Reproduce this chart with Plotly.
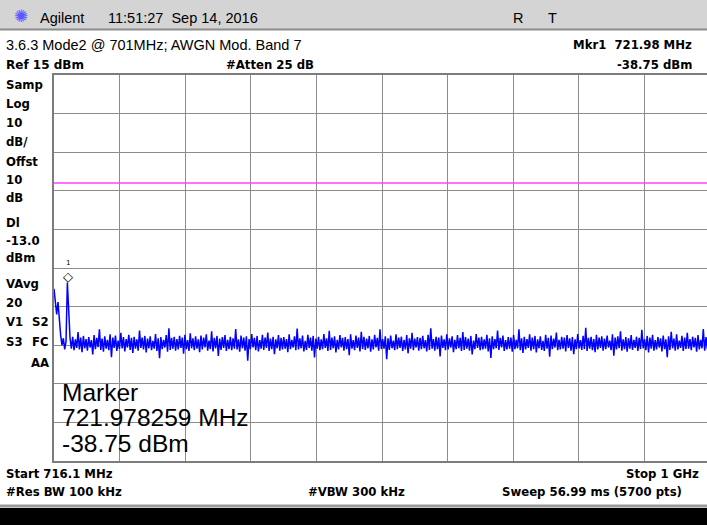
import numpy as np
import plotly.graph_objects as go

# ---------------- data ----------------
START_MHZ = 716.1
STOP_MHZ = 1000.0
REF_DBM = 15.0
DB_PER_DIV = 10.0
DL_DBM = -13.0
MKR_FREQ = 721.978259
MKR_DBM = -38.75

# first points of the sweep (band edge, marker peak)
edge_dbm = [-40.4, -44.5, -47.0, -43.8, -49.5, -52.5, -55.0, -53.2, -56.1, -54.0, -38.75, -46.0]

# rest of sweep (noise floor), read as alternating upper / lower excursions
noise_dbm = [
    -53.2, -55.9, -52.8, -56.3, -53.5, -55.7, -51.6, -56.1, -53.0, -56.8, -52.6, -55.8, -53.4, -56.4, -52.9, -55.6, -53.7, -57.4, -52.4, -56.0,
    -53.1, -55.5, -50.9, -56.2, -53.3, -56.7, -52.7, -55.9, -53.6, -56.3, -52.2, -58.1, -53.0, -55.7, -52.5, -56.5, -53.8, -56.0, -51.8, -55.8,
    -52.9, -56.6, -53.4, -55.6, -52.3, -56.2, -53.1, -57.0, -52.8, -55.9, -53.5, -56.4, -51.2, -55.7, -53.0, -56.1, -52.6, -56.9, -53.3, -55.8,
    -52.7, -56.3, -53.9, -55.9, -52.1, -56.5, -53.2, -58.4, -52.9, -56.0, -53.6, -55.6, -52.4, -56.7, -50.6, -56.2, -53.1, -55.9, -52.8, -56.4,
    -53.4, -56.1, -52.6, -55.7, -53.0, -57.2, -52.3, -56.0, -53.7, -56.5, -51.9, -55.8, -53.2, -56.3, -52.7, -55.9, -53.5, -56.8, -52.5, -56.1,
    -53.0, -55.6, -52.2, -56.4, -53.8, -56.0, -51.4, -56.6, -53.1, -55.8, -52.6, -57.8, -53.3, -56.2, -52.9, -55.7, -52.4, -56.5, -53.6, -56.0,
    -52.8, -56.3, -53.2, -55.9, -50.8, -56.1, -53.5, -56.7, -52.5, -55.8, -53.0, -56.4, -52.7, -59.0, -53.4, -56.0, -52.1, -55.6, -53.1, -56.3,
    -52.6, -56.6, -53.7, -55.9, -52.3, -56.2, -53.0, -55.7, -51.7, -56.5, -53.3, -56.0, -52.8, -57.3, -53.5, -55.8, -52.4, -56.4, -53.1, -56.1,
    -52.9, -55.9, -53.4, -56.8, -52.2, -56.0, -53.6, -55.6, -52.7, -56.3, -50.7, -56.1, -53.2, -55.8, -52.5, -56.6, -53.9, -56.2, -52.3, -55.7,
    -53.0, -56.4, -52.6, -58.2, -53.3, -55.9, -52.8, -56.3, -53.5, -56.0, -52.1, -55.7, -53.2, -56.5, -51.3, -56.2, -53.0, -55.8, -52.7, -56.9,
    -53.6, -56.1, -52.4, -55.6, -53.1, -56.4, -52.9, -56.0, -53.4, -57.6, -52.2, -55.9, -53.7, -56.3, -52.5, -55.7, -53.0, -56.6, -51.5, -56.0,
    -52.8, -56.2, -53.3, -55.8, -52.6, -56.7, -53.5, -56.1, -52.3, -55.6, -53.1, -56.4, -50.9, -56.0, -53.4, -55.9, -52.7, -58.6, -53.2, -56.2,
    -52.5, -55.8, -53.8, -56.3, -52.2, -56.0, -53.0, -55.7, -52.8, -56.5, -53.6, -56.1, -52.4, -57.1, -53.2, -55.9, -51.8, -56.3, -53.3, -55.6,
    -52.9, -56.4, -53.1, -56.0, -52.6, -55.8, -53.7, -56.6, -52.3, -56.2, -50.6, -55.9, -53.4, -56.4, -52.8, -56.0, -53.0, -57.9, -52.5, -55.7,
    -53.5, -56.3, -52.2, -56.1, -53.2, -55.6, -52.7, -56.8, -53.6, -56.0, -52.4, -55.8, -53.1, -56.5, -51.6, -56.2, -52.9, -55.9, -53.3, -56.4,
    -52.6, -57.4, -53.8, -56.0, -52.1, -55.7, -53.0, -56.3, -52.8, -56.1, -53.5, -55.9, -52.3, -56.6, -53.2, -58.3, -52.7, -56.0, -53.4, -55.8,
    -51.2, -56.2, -53.1, -55.6, -52.5, -56.5, -53.7, -56.1, -52.9, -55.9, -53.0, -56.7, -52.4, -56.0, -53.6, -55.8, -50.9, -56.3, -53.2, -57.0,
    -52.8, -56.1, -53.4, -55.7, -52.2, -56.4, -53.0, -56.0, -52.6, -56.9, -53.5, -55.8, -52.7, -56.2, -53.9, -56.5, -52.3, -55.9, -53.1, -58.0,
    -52.5, -56.0, -53.3, -55.6, -51.7, -56.3, -53.6, -56.1, -52.8, -55.9, -53.0, -56.6, -52.4, -55.7, -53.2, -56.4, -52.9, -57.3, -53.5, -56.0,
    -52.1, -55.8, -53.7, -56.2, -52.6, -56.0, -50.5, -56.5, -53.1, -55.9, -52.8, -56.3, -53.4, -56.8, -52.3, -56.1, -53.0, -55.7, -52.7, -56.4,
    -53.3, -56.0, -52.5, -55.6, -53.8, -56.3, -52.2, -57.7, -53.0, -56.1, -52.7, -55.8, -51.4, -56.4, -53.5, -56.0, -52.9, -56.7, -53.2, -55.9,
    -52.4, -56.2, -53.6, -55.7, -52.8, -56.5, -53.1, -56.0, -51.0, -55.8, -53.4, -56.3, -52.6, -56.9, -53.0, -55.9, -52.3, -56.4, -53.7, -56.1,
    -52.9, -55.6, -53.2, -56.6, -52.5, -56.0, -53.5, -58.1, -52.7, -56.2, -51.5, -55.8, -53.3, -56.4, -52.2, -56.1, -53.8, -55.7, -52.6, -56.5,
    -53.0, -56.0, -51.8, -55.9, -53.4, -56.3, -52.8, -55.6, -53.1, -56.7, -52.4, -56.1, -53.6, -55.8, -50.8, -56.4, -52.9, -56.0, -53.2, -55.7,
]

trace_dbm = edge_dbm + noise_dbm
freq_mhz = np.linspace(START_MHZ, STOP_MHZ, len(trace_dbm))

# ---------------- layout geometry (pixels) ----------------
W, H = 707, 525
L, R, T, B = 54, 0, 75, 64
PW, PH = W - L - R, H - T - B
GRID_PX = 65.6  # one horizontal division in px
SPAN = STOP_MHZ - START_MHZ
x_max = START_MHZ + SPAN / 10.0 * (PW / GRID_PX)


def px(xp):
    return (xp - L) / PW


def py(yp):
    return (H - B - yp) / PH


fig = go.Figure()
fig.add_trace(go.Scatter(x=freq_mhz, y=trace_dbm, mode="lines",
                         line=dict(color="#0000ff", width=1.5), hoverinfo="skip"))

BOLD = "DejaVu Sans"
REG = "Liberation Sans, Arial"

ann = []


def txt(x, y, s, size=12, font=BOLD, bold=True, anchor="left", color="black"):
    t = f"<b>{s}</b>" if bold else s
    ann.append(dict(xref="paper", yref="paper", x=px(x), y=py(y), text=t, showarrow=False,
                    xanchor=anchor, yanchor="middle",
                    font=dict(family=font, size=size, color=color)))


# top bar texts
ann.append(dict(xref="paper", yref="paper", x=px(21), y=py(16), text="✺", showarrow=False,
                xanchor="center", yanchor="middle", font=dict(family="DejaVu Sans", size=17, color="#5a5aff")))
txt(38, 18, "Agilent", 14.5, REG, False)
txt(106, 18, "11:51:27&nbsp;&nbsp;Sep 14, 2016", 14.5, REG, False)
txt(511, 18, "R", 14.5, REG, False)
txt(546, 18, "T", 14.5, REG, False)

# header lines
txt(4, 45, "3.6.3 Mode2 @ 701MHz; AWGN Mod. Band 7", 14.5, REG, False)
txt(694, 45, "Mkr1&nbsp;&nbsp;721.98 MHz", 11.7, anchor="right")
txt(4, 65, "Ref 15 dBm", 12, )
txt(224, 65, "#Atten 25 dB", 11.7)
txt(694, 65, "-38.75 dBm", 11.7, anchor="right")

# left panel
for y, s in [(85, "Samp"), (104, "Log"), (123, "10"), (142, "dB/"), (162, "Offst"), (180, "10"),
             (198, "dB"), (223, "Dl"), (241, "-13.0"), (258, "dBm"), (284, "VAvg"), (303, "20")]:
    txt(4, y, s, 11.7)
txt(4, 322, "V1", 11.7)
txt(51, 322, "S2", 11.7, anchor="right")
txt(4, 342, "S3", 11.7)
txt(51, 342, "FC", 11.7, anchor="right")
txt(51, 363, "AA", 11.7, anchor="right")

# marker readout in graticule
txt(60, 392, "Marker", 24.5, REG, False)
txt(60, 417, "721.978259 MHz", 24.5, REG, False)
txt(60, 443, "-38.75 dBm", 24.5, REG, False)

# bottom lines
txt(4, 474, "Start 716.1 MHz", 11.7)
txt(701, 474, "Stop 1 GHz", 11.7, anchor="right")
txt(4, 492, "#Res BW 100 kHz", 11.7)
txt(306, 492, "#VBW 300 kHz", 11.7)
txt(684, 492, "Sweep 56.99 ms (5700 pts)", 11.7, anchor="right")

# marker symbol + label
ann.append(dict(x=MKR_FREQ, y=MKR_DBM, xref="x", yref="y", text="◇", showarrow=False,
                yshift=6, xanchor="center", yanchor="middle",
                font=dict(family="DejaVu Sans", size=13, color="black")))
ann.append(dict(x=MKR_FREQ, y=MKR_DBM, xref="x", yref="y", text="1", showarrow=False,
                yshift=19, xanchor="center", yanchor="middle",
                font=dict(family="DejaVu Sans", size=7, color="black")))

shapes = [
    # top gray bar
    dict(type="rect", xref="paper", yref="paper", x0=px(0), x1=px(W), y0=py(0), y1=py(29),
         fillcolor="#d4d4d4", line=dict(width=0), layer="below"),
    dict(type="line", xref="paper", yref="paper", x0=px(0), x1=px(W), y0=py(29.5), y1=py(29.5),
         line=dict(color="#8c8c8c", width=2)),
    # bottom bars
    dict(type="rect", xref="paper", yref="paper", x0=px(0), x1=px(W), y0=py(504.5), y1=py(507.5),
         fillcolor="#9a9a9a", line=dict(width=0)),
    dict(type="rect", xref="paper", yref="paper", x0=px(0), x1=px(W), y0=py(508), y1=py(H),
         fillcolor="#000000", line=dict(width=0)),
    # display line
    dict(type="line", xref="paper", yref="y", x0=0, x1=1, y0=DL_DBM, y1=DL_DBM,
         line=dict(color="#ff40ff", width=1.5)),
]

fig.update_layout(
    width=W, height=H, margin=dict(l=L, r=R, t=T, b=B, pad=0),
    paper_bgcolor="white", plot_bgcolor="white", showlegend=False,
    annotations=ann, shapes=shapes,
    xaxis=dict(range=[START_MHZ, x_max], tick0=START_MHZ, dtick=SPAN / 10.0,
               showgrid=True, gridcolor="#8c8c8c", gridwidth=1, zeroline=False,
               showticklabels=False, ticks="", showline=True, linecolor="#7c7c7c",
               linewidth=2, mirror=True, fixedrange=True),
    yaxis=dict(range=[REF_DBM - 10 * DB_PER_DIV, REF_DBM], tick0=REF_DBM, dtick=DB_PER_DIV,
               showgrid=True, gridcolor="#8c8c8c", gridwidth=1, zeroline=False,
               showticklabels=False, ticks="", showline=True, linecolor="#7c7c7c",
               linewidth=2, mirror=False, fixedrange=True),
)

fig.write_html("out.html", config={"displayModeBar": False},
               post_script="document.body.style.margin='0';document.body.style.overflow='hidden';")
